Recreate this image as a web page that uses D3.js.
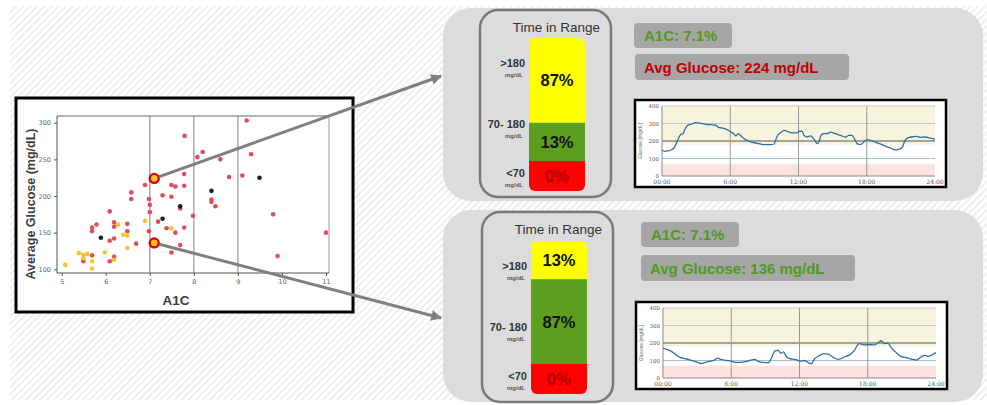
<!DOCTYPE html>
<html lang="en">
<head>
<meta charset="utf-8">
<title>A1C vs Average Glucose</title>
<script src="https://d3js.org/d3.v7.min.js"></script>
<style>
  body { margin: 0; background: #fff; }
  svg { display: block; font-family: "Liberation Sans", Arial, sans-serif; }
</style>
</head>
<body>
<svg id="chart" width="987" height="405"></svg>
<script>
// scatter: [A1C, average glucose]
const redPoints = [
  [7.79,282],[9.2,303],[8.2,260],[8.08,253],[9.3,257],[8.6,250],[8.8,226],[9.1,228],
  [7.78,230],[7.78,214],[7.49,215],[7.58,213],[6.89,215],[6.98,196],[6.58,205],[6.58,196],
  [7.29,201],[7.49,199],[7.0,188],[7.0,178],[7.69,183],[8.4,195],[8.4,192],[8.49,186],
  [7.98,173],[9.8,175],[6.09,179],[6.19,164],[6.19,158],[6.49,162],[6.49,152],[5.69,157],
  [5.69,152],[5.79,161],[7.19,165],[7.38,156],[7.58,150],[7.78,157],[6.98,152],[6.09,139],
  [6.19,142],[6.69,135],[7.49,123],[7.69,133],[11.0,150],[9.9,118],[5.69,119],[5.49,111],
  [6.19,117],[6.09,111]
];
const yellowPoints = [
  [5.08,106],[5.39,122],[5.49,119.5],[5.58,121],[5.49,115],[5.69,111],[5.69,101],[5.98,123],
  [6.19,113],[6.28,161],[6.4,147],[6.49,146],[6.49,129],[6.89,166],[7.49,156]
];
const blackPoints = [[5.89,143],[7.29,169],[7.69,186],[8.4,207],[9.49,225]];

const a1cTicks = [5, 6, 7, 8, 9, 10, 11];
const glucoseTicks = [100, 150, 200, 250, 300];
const a1cGrid = [7, 8, 9];

// the two highlighted patients
const patientA1C = [7.1, 7.1];
const patientAvg = [224, 136];
const tirHigh = [87, 13];
const tirMid = [13, 87];
const tirLow = [0, 0];
const rangeLabels = [">180", "70- 180", "<70"];

// 24h CGM traces (hour, mg/dL)
const cgmHoursTop = [0,0.23,0.52,0.82,1.05,1.25,1.46,1.63,1.84,2.04,2.27,2.57,3.0,3.44,3.88,4.32,4.75,4.96,5.34,5.77,
  6.07,6.3,6.5,6.71,6.94,7.23,7.67,8.1,8.54,8.98,9.57,9.86,10.09,10.44,10.73,11.17,11.61,11.9,12.04,12.33,
  12.48,12.77,13.06,13.36,13.65,13.8,14.0,14.23,14.52,14.81,15.25,15.69,16.13,16.42,16.71,16.91,17.15,17.44,17.73,18.02,
  18.31,18.75,19.19,19.63,20.06,20.5,20.79,21.08,21.38,21.67,22.1,22.4,22.69,23.13,23.56,24.0];
const cgmTop = [147,141,143,150,160,185,217,236,242,270,290,297,305,301,295,293,290,278,274,263,
  251,242,229,242,229,213,198,190,185,179,179,183,223,248,261,251,246,248,257,255,
  232,223,229,210,185,194,236,242,242,251,242,232,223,232,232,213,185,179,194,208,
  204,194,183,171,160,149,152,160,204,219,225,227,221,223,217,211];
const cgmHoursBottom = [0,0.3,0.65,1.1,1.54,1.99,2.43,2.87,3.32,3.61,4.06,4.5,4.8,5.1,5.54,5.98,6.28,6.73,7.17,7.61,
  8.06,8.36,8.8,9.24,9.48,9.84,10.13,10.37,10.58,10.87,11.17,11.61,12.06,12.36,12.8,13.04,13.33,13.69,14.13,14.58,
  15.02,15.47,15.91,16.36,16.8,17.24,17.69,18.13,18.58,18.96,19.17,19.47,19.76,20.06,20.5,20.95,21.39,21.84,22.28,22.72,
  23.02,23.32,23.61,24];
const cgmBottom = [170,164,155,135,116,110,102,93,83,87,95,102,114,106,100,97,91,89,93,100,
  106,95,89,87,106,155,158,141,149,120,110,106,97,100,87,81,110,126,139,135,
  116,106,120,131,155,197,189,191,189,203,213,197,199,174,145,122,116,108,102,122,
  129,124,131,145];
const timeTicks = [0, 6, 12, 18, 24];
const timeLabels = ["00:00", "6:00", "12:00", "18:00", "24:00"];
const cgmTicks = [0, 100, 200, 300, 400];

const svg = d3.select("#chart");
const defs = svg.append("defs");

// hatched backdrop
const pat = defs.append("pattern")
  .attr("id", "hatch").attr("patternUnits", "userSpaceOnUse")
  .attr("width", 5).attr("height", 5)
  .attr("patternTransform", "rotate(45)");
pat.append("rect").attr("width", 5).attr("height", 5).attr("fill", "#fff");
pat.append("line").attr("x1", 1).attr("y1", 0).attr("x2", 1).attr("y2", 5)
  .attr("stroke", "#ececec").attr("stroke-width", 1.6);
svg.append("rect").attr("x", 10).attr("y", 6).attr("width", 977).attr("height", 394)
  .attr("fill", "url(#hatch)");

defs.append("marker")
  .attr("id", "arrow").attr("viewBox", "0 0 10 10")
  .attr("refX", 9).attr("refY", 5)
  .attr("markerWidth", 4.2).attr("markerHeight", 3.6)
  .attr("orient", "auto")
  .append("path").attr("d", "M0,0 L10,5 L0,10 z").attr("fill", "#7f7f7f");

// ---------- scatter ----------
svg.append("rect").attr("x", 16).attr("y", 98).attr("width", 337).attr("height", 214)
  .attr("fill", "#fff").attr("stroke", "#000").attr("stroke-width", 3);

const x = d3.scaleLinear().domain([5, 11]).range([61.7, 326]);
const y = d3.scaleLinear().domain([100, 300]).range([269.3, 122.7]);
const pl = 57, pr = 329, pt = 116, pb = 273;

svg.selectAll(".grid").data(a1cGrid).enter().append("line")
  .attr("x1", d => x(d)).attr("x2", d => x(d))
  .attr("y1", pt).attr("y2", pb)
  .attr("stroke", "#aaa").attr("stroke-width", 1.5);

svg.append("line").attr("x1", pl).attr("x2", pr).attr("y1", pt).attr("y2", pt).attr("stroke", "#666");
svg.append("line").attr("x1", pr).attr("x2", pr).attr("y1", pt).attr("y2", pb).attr("stroke", "#bbb").attr("stroke-width", 1.5);
svg.append("line").attr("x1", pl).attr("x2", pr).attr("y1", pb).attr("y2", pb).attr("stroke", "#555");
svg.append("line").attr("x1", pl).attr("x2", pl).attr("y1", pt).attr("y2", pb).attr("stroke", "#555");

const xAxis = svg.append("g").attr("transform", `translate(0,${pb})`)
  .call(d3.axisBottom(x).tickValues(a1cTicks).tickSize(3).tickFormat(d3.format("d")));
const yAxis = svg.append("g").attr("transform", `translate(${pl},0)`)
  .call(d3.axisLeft(y).tickValues(glucoseTicks).tickSize(3));
[xAxis, yAxis].forEach(a => {
  a.select(".domain").remove();
  a.selectAll("line").attr("stroke", "#555");
  a.selectAll("text").attr("fill", "#666").style("font-size", "6.5px")
    .style("font-family", "'DejaVu Sans', sans-serif");
});

svg.append("text").attr("transform", "translate(35,204) rotate(-90)")
  .attr("text-anchor", "middle").attr("font-weight", "bold").attr("font-size", 12.5)
  .attr("fill", "#404040").text("Average Glucose (mg/dL)");
svg.append("text").attr("x", 176).attr("y", 305)
  .attr("text-anchor", "middle").attr("font-weight", "bold").attr("font-size", 13.5)
  .attr("fill", "#404040").text("A1C");

function dots(data, color) {
  svg.append("g").selectAll("circle").data(data).enter().append("circle")
    .attr("cx", d => x(d[0])).attr("cy", d => y(d[1])).attr("r", 2.3)
    .attr("fill", color);
}
dots(redPoints, "#e04d5a");
dots(yellowPoints, "#f4c430");
dots(blackPoints, "#1c1c2a");

// ---------- panels ----------
const panelY = [8, 210];
const panelH = [193, 192];
const arrowTip = [[441, 76], [441, 318]];
const tirBox = [[480, 10, 187], [482, 212, 190]];
const barPos = [[529, 38], [531, 241]];
const a1cBox = [[634, 23], [641, 222]];
const avgBox = [[635, 54], [641, 255]];
const cgmBox = [[635, 100], [636, 302]];

const segScale = d3.scaleLinear().domain([0, 100]).range([0, 63]);
const minSeg = 30;
const segColors = ["#ffff00", "#5c9e1e", "#ff0000"];
const labelOffsets = [25, 86, 135];

patientA1C.forEach((a1c, i) => {
  const p = svg.append("g");
  p.append("rect").attr("x", 443).attr("y", panelY[i]).attr("width", 540).attr("height", panelH[i])
    .attr("rx", 28).attr("fill", "#dcdcdc");

  // arrow from scatter point to the panel
  const cx = x(a1c), cy = y(patientAvg[i]);
  const [tx, ty] = arrowTip[i];
  const len = Math.hypot(tx - cx, ty - cy);
  svg.append("line")
    .attr("x1", cx + (tx - cx) / len * 5.5).attr("y1", cy + (ty - cy) / len * 5.5)
    .attr("x2", tx).attr("y2", ty)
    .attr("stroke", "#7f7f7f").attr("stroke-width", 3)
    .attr("marker-end", "url(#arrow)");

  // time in range box
  const [bx, by, bh] = tirBox[i];
  p.append("rect").attr("x", bx).attr("y", by).attr("width", 131).attr("height", bh)
    .attr("rx", 18).attr("fill", "none").attr("stroke", "#7a7a7a").attr("stroke-width", 2.5);
  p.append("text").attr("x", bx + 120).attr("y", by + 22).attr("text-anchor", "end")
    .attr("font-size", 13.5).attr("fill", "#333").text("Time in Range");

  const vals = [tirHigh[i], tirMid[i], tirLow[i]];
  const heights = vals.map(v => minSeg + segScale(v));
  const total = d3.sum(heights);
  const [sx, sy] = barPos[i];
  const bw = 56;
  defs.append("clipPath").attr("id", "bar" + i)
    .append("rect").attr("x", sx).attr("y", sy).attr("width", bw).attr("height", total).attr("rx", 6);
  const bar = p.append("g").attr("clip-path", `url(#bar${i})`);
  let acc = sy;
  vals.forEach((v, k) => {
    bar.append("rect").attr("x", sx).attr("y", acc).attr("width", bw).attr("height", heights[k])
      .attr("fill", segColors[k]);
    p.append("text").attr("x", sx + bw / 2).attr("y", acc + heights[k] / 2 + 6)
      .attr("text-anchor", "middle").attr("font-weight", "bold").attr("font-size", 16.5)
      .attr("fill", k === 2 ? "#b00000" : "#111").text(v + "%");
    p.append("text").attr("x", sx - 4).attr("y", sy + labelOffsets[k] + 4)
      .attr("text-anchor", "end").attr("font-weight", "bold").attr("font-size", 11)
      .attr("fill", "#333").text(rangeLabels[k]);
    p.append("text").attr("x", sx - 6).attr("y", sy + labelOffsets[k] + 13.5)
      .attr("text-anchor", "end").attr("font-weight", "bold").attr("font-size", 6)
      .attr("fill", "#555").text("mg/dL");
    acc += heights[k];
  });

  // value tags
  p.append("rect").attr("x", a1cBox[i][0]).attr("y", a1cBox[i][1]).attr("width", 98).attr("height", 25)
    .attr("rx", 4).attr("fill", "#a6a6a6");
  p.append("text").attr("x", a1cBox[i][0] + 10).attr("y", a1cBox[i][1] + 18)
    .attr("font-weight", "bold").attr("font-size", 15).attr("fill", "#4e9a1e")
    .text("A1C: " + a1c + "%");
  p.append("rect").attr("x", avgBox[i][0]).attr("y", avgBox[i][1]).attr("width", 214).attr("height", 26)
    .attr("rx", 4).attr("fill", "#a6a6a6");
  p.append("text").attr("x", avgBox[i][0] + 9).attr("y", avgBox[i][1] + 19)
    .attr("font-weight", "bold").attr("font-size", 15)
    .attr("fill", patientAvg[i] > 180 ? "#c00000" : "#4e9a1e")
    .text("Avg Glucose: " + patientAvg[i] + " mg/dL");

  drawCgm(p, cgmBox[i], i === 0 ? cgmHoursTop : cgmHoursBottom, i === 0 ? cgmTop : cgmBottom);
});

function drawCgm(g, box, hours, values) {
  const [bx, by] = box;
  const w = 311, h = 87;
  g.append("rect").attr("x", bx).attr("y", by).attr("width", w).attr("height", h)
    .attr("fill", "#fff").attr("stroke", "#000").attr("stroke-width", 2.5);
  const l = bx + 27, r = bx + 300, t = by + 6, b = by + 76;
  const cx = d3.scaleLinear().domain([0, 24]).range([l, r]);
  const cy = d3.scaleLinear().domain([0, 400]).range([b, t]);

  g.append("rect").attr("x", l).attr("y", cy(400)).attr("width", r - l).attr("height", cy(180) - cy(400))
    .attr("fill", "#f6f4dc");
  g.append("rect").attr("x", l).attr("y", cy(70)).attr("width", r - l).attr("height", cy(0) - cy(70))
    .attr("fill", "#fde2e2");

  g.selectAll(null).data([100, 200, 300, 400]).enter().append("line")
    .attr("x1", l).attr("x2", r).attr("y1", d => cy(d)).attr("y2", d => cy(d))
    .attr("stroke", d => d === 200 ? "#555" : d === 100 ? "#a9bcd2" : "#c8c8c8")
    .attr("stroke-width", 1);
  g.selectAll(null).data(timeTicks.slice(1, 4)).enter().append("line")
    .attr("x1", d => cx(d)).attr("x2", d => cx(d)).attr("y1", t).attr("y2", b)
    .attr("stroke", "#999").attr("stroke-width", 1);
  g.append("line").attr("x1", l).attr("x2", l).attr("y1", t).attr("y2", b).attr("stroke", "#888");
  g.append("line").attr("x1", l).attr("x2", r).attr("y1", b).attr("y2", b).attr("stroke", "#888");

  g.selectAll(null).data(cgmTicks).enter().append("text")
    .attr("x", l - 3).attr("y", d => cy(d) + 2).attr("text-anchor", "end")
    .attr("font-size", 5.5).attr("fill", "#555").style("font-family", "'DejaVu Serif', serif")
    .text(d => d);
  g.selectAll(null).data(timeTicks).enter().append("text")
    .attr("x", d => cx(d)).attr("y", b + 8).attr("text-anchor", "middle")
    .attr("font-size", 6).attr("fill", "#555").style("font-family", "'DejaVu Serif', serif")
    .text((d, k) => timeLabels[k]);
  g.append("text").attr("transform", `translate(${bx + 7},${(t + b) / 2}) rotate(-90)`)
    .attr("text-anchor", "middle").attr("font-size", 5).attr("fill", "#666")
    .text("Glucose [mg/dL]");

  const line = d3.line().x((d, k) => cx(hours[k])).y(d => cy(d)).curve(d3.curveMonotoneX);
  g.append("path").datum(values).attr("d", line)
    .attr("fill", "none").attr("stroke", "#2f6fa8").attr("stroke-width", 1.3);
}

// highlighted patients drawn last so the rings sit on the arrows
patientA1C.forEach((a1c, i) => {
  svg.append("circle").attr("cx", x(a1c)).attr("cy", y(patientAvg[i])).attr("r", 4.5)
    .attr("fill", "#f4c430").attr("stroke", "#e00000").attr("stroke-width", 2.4);
});
</script>
</body>
</html>
